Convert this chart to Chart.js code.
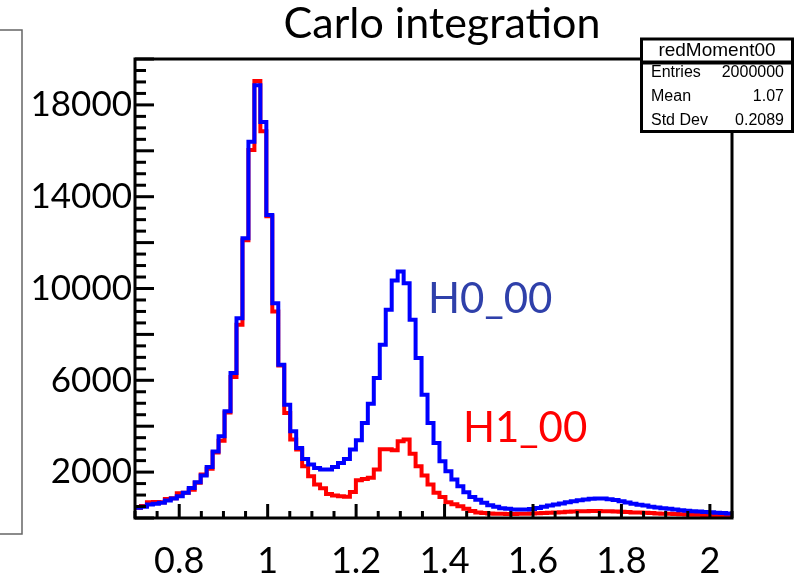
<!DOCTYPE html>
<html>
<head>
<meta charset="utf-8">
<script src="https://cdn.jsdelivr.net/npm/chart.js@4.4.1/dist/chart.umd.min.js"></script>
<style>
  html, body { margin: 0; padding: 0; background: #ffffff; }
  #wrap { width: 804px; height: 584px; position: relative; }
</style>
</head>
<body>
<div id="wrap"><canvas id="c" width="804" height="584"></canvas></div>
<script>
// Histogram binning: 100 equal bins over [0.70, 2.05]
const xMin = 0.7;
const xMax = 2.05;
const nBins = 100;
const yMax = 20000;

// Labelled tick values
const xTickLabels = [0.8, 1.0, 1.2, 1.4, 1.6, 1.8, 2.0];
const yTickLabels = [2000, 6000, 10000, 14000, 18000];

// Bin contents, H0_00 (blue)
const h0Counts = [
  443, 487, 588, 617, 660, 761, 848, 950, 1095, 1312,
  1558, 1848, 2225, 2900, 3559, 4646, 6315, 8708, 12188, 16390,
  18856, 17260, 13201, 9360, 6677, 4937, 3776, 3053, 2575, 2327,
  2183, 2110, 2110, 2227, 2401, 2575, 2980, 3384, 4141, 4980,
  6098, 7547, 9069, 10344, 10736, 10230, 8634, 6968, 5372, 4141,
  3271, 2471, 2036, 1675, 1383, 1120, 920, 790, 660, 560,
  490, 430, 400, 375, 370, 370, 395, 440, 490, 545,
  590, 635, 690, 735, 775, 810, 840, 850, 845, 815,
  780, 735, 670, 620, 575, 540, 490, 455, 425, 400,
  370, 340, 315, 295, 280, 260, 250, 230, 220, 200
];

// Bin contents, H1_00 (red)
const h1Counts = [
  450, 520, 690, 700, 690, 830, 860, 1080, 1100, 1230,
  1540, 1900, 2150, 2850, 3370, 4600, 6140, 8420, 12100, 16030,
  19040, 16850, 13150, 9000, 6650, 4570, 3420, 2980, 2250, 1820,
  1460, 1300, 1050, 980, 950, 930, 1130, 1646, 1700, 1750,
  2110, 3000, 3000, 2950, 3340, 3420, 2800, 2250, 1850, 1460,
  1100, 920, 690, 600, 510, 400, 300, 240, 215, 200,
  190, 180, 175, 175, 180, 185, 195, 205, 220, 230,
  245, 255, 270, 280, 290, 295, 300, 300, 295, 290,
  280, 270, 260, 245, 235, 225, 215, 200, 190, 180,
  170, 160, 150, 145, 140, 130, 125, 120, 110, 105
];

// Statistics box contents
const statsTitle = "redMoment00";
const statsNames = ["Entries", "Mean", "Std Dev"];
const statsValues = ["2000000", "1.07", "0.2089"];

const binWidth = (xMax - xMin) / nBins;
const edges = Array.from({ length: nBins + 1 }, (_, i) => xMin + i * binWidth);

// One point per left bin edge, plus a closing point at the upper edge
function toSteps(counts) {
  const pts = counts.map((v, i) => ({ x: edges[i], y: v }));
  pts.push({ x: edges[nBins], y: counts[nBins - 1] });
  return pts;
}

const LABEL_FONT = "Lato, 'Open Sans', sans-serif";
const STAT_FONT = "'Liberation Sans', Arial, sans-serif";

// Frame, inward ROOT-style ticks, stats box and text annotations
const rootDecor = {
  id: 'rootDecor',
  afterDatasetsDraw(chart) {
    const { ctx, chartArea: a, scales: { x, y } } = chart;
    ctx.save();
    ctx.strokeStyle = '#000';
    ctx.lineCap = 'butt';

    // ticks on the y axis: minor every 500, major every 2000
    ctx.lineWidth = 3;
    for (let v = 0; v <= yMax; v += 500) {
      const py = y.getPixelForValue(v);
      const len = (v % 2000 === 0) ? 19 : 11;
      ctx.beginPath();
      ctx.moveTo(a.left, py);
      ctx.lineTo(a.left + len, py);
      ctx.stroke();
    }
    // ticks on the x axis: minor every 0.05, major every 0.2
    for (let k = 0; ; k++) {
      const v = xMin + k * 0.05;
      if (v > xMax + 1e-9) break;
      const hund = Math.round(v * 100);
      const len = (hund % 20 === 0) ? 14 : 7;
      const px = x.getPixelForValue(v);
      ctx.beginPath();
      ctx.moveTo(px, a.bottom);
      ctx.lineTo(px, a.bottom - len);
      ctx.stroke();
    }

    // frame
    ctx.lineWidth = 3;
    ctx.strokeRect(a.left, a.top, a.right - a.left, a.bottom - a.top);

    // stats box
    const bx = 641.5, by = 39, bw = 151, bh = 92.5;
    ctx.fillStyle = '#fff';
    ctx.fillRect(bx, by, bw, bh);
    ctx.lineWidth = 3;
    ctx.strokeRect(bx, by, bw, bh);
    ctx.lineWidth = 4;
    ctx.beginPath();
    ctx.moveTo(bx, 62.5);
    ctx.lineTo(bx + bw, 62.5);
    ctx.stroke();

    ctx.fillStyle = '#000';
    ctx.textBaseline = 'middle';
    ctx.font = `19px ${STAT_FONT}`;
    ctx.textAlign = 'center';
    ctx.fillText(statsTitle, bx + bw / 2, 51);
    ctx.font = `16px ${STAT_FONT}`;
    const rowY = [73, 96.5, 120.5];
    statsNames.forEach((name, i) => {
      ctx.textAlign = 'left';
      ctx.fillText(name, 651, rowY[i]);
      ctx.textAlign = 'right';
      ctx.fillText(statsValues[i], 784, rowY[i]);
    });

    // series labels placed in data coordinates
    ctx.textBaseline = 'alphabetic';
    ctx.textAlign = 'left';
    ctx.font = `42px ${LABEL_FONT}`;
    ctx.fillStyle = '#2f40aa';
    ctx.fillText('H0_00', x.getPixelForValue(1.3625), y.getPixelForValue(8940));
    ctx.fillStyle = '#ff0000';
    ctx.fillText('H1_00', x.getPixelForValue(1.4415), y.getPixelForValue(3290));

    // title
    ctx.fillStyle = '#000';
    ctx.textAlign = 'center';
    ctx.font = `43px ${LABEL_FONT}`;
    ctx.fillText('Carlo integration', 442, 38);

    // thin bracket at the left edge of the page
    ctx.strokeStyle = '#666';
    ctx.lineWidth = 1.5;
    ctx.beginPath();
    ctx.moveTo(0, 30);
    ctx.lineTo(22, 30);
    ctx.lineTo(22, 534);
    ctx.lineTo(0, 534);
    ctx.stroke();

    ctx.restore();
  }
};

new Chart(document.getElementById('c'), {
  type: 'line',
  data: {
    datasets: [
      {
        label: 'H0_00',
        data: toSteps(h0Counts),
        borderColor: '#0000ff',
        borderWidth: 4,
        stepped: 'before',
        pointRadius: 0,
        fill: false,
        borderJoinStyle: 'miter'
      },
      {
        label: 'H1_00',
        data: toSteps(h1Counts),
        borderColor: '#ff0000',
        borderWidth: 4,
        stepped: 'before',
        pointRadius: 0,
        fill: false,
        borderJoinStyle: 'miter'
      }
    ]
  },
  options: {
    responsive: false,
    devicePixelRatio: 1,
    animation: false,
    layout: { padding: { top: 59, right: 72, left: 0, bottom: 0 } },
    plugins: {
      legend: { display: false },
      title: { display: false },
      tooltip: { enabled: false }
    },
    scales: {
      x: {
        type: 'linear',
        min: xMin,
        max: xMax,
        grid: { display: false, drawTicks: false },
        border: { display: false },
        afterBuildTicks: s => { s.ticks = xTickLabels.map(v => ({ value: v })); },
        afterFit: s => { s.height = 66; },
        ticks: {
          autoSkip: false,
          maxRotation: 0,
          padding: 22,
          color: '#000',
          font: { family: LABEL_FONT, size: 36 },
          callback: v => String(Math.round(v * 10) / 10)
        }
      },
      y: {
        type: 'linear',
        min: 0,
        max: yMax,
        grid: { display: false, drawTicks: false },
        border: { display: false },
        afterBuildTicks: s => { s.ticks = yTickLabels.map(v => ({ value: v })); },
        afterFit: s => { s.width = 135; },
        ticks: {
          autoSkip: false,
          padding: 3,
          color: '#000',
          font: { family: LABEL_FONT, size: 35 },
          callback: v => String(v)
        }
      }
    }
  },
  plugins: [rootDecor]
});
</script>
</body>
</html>
